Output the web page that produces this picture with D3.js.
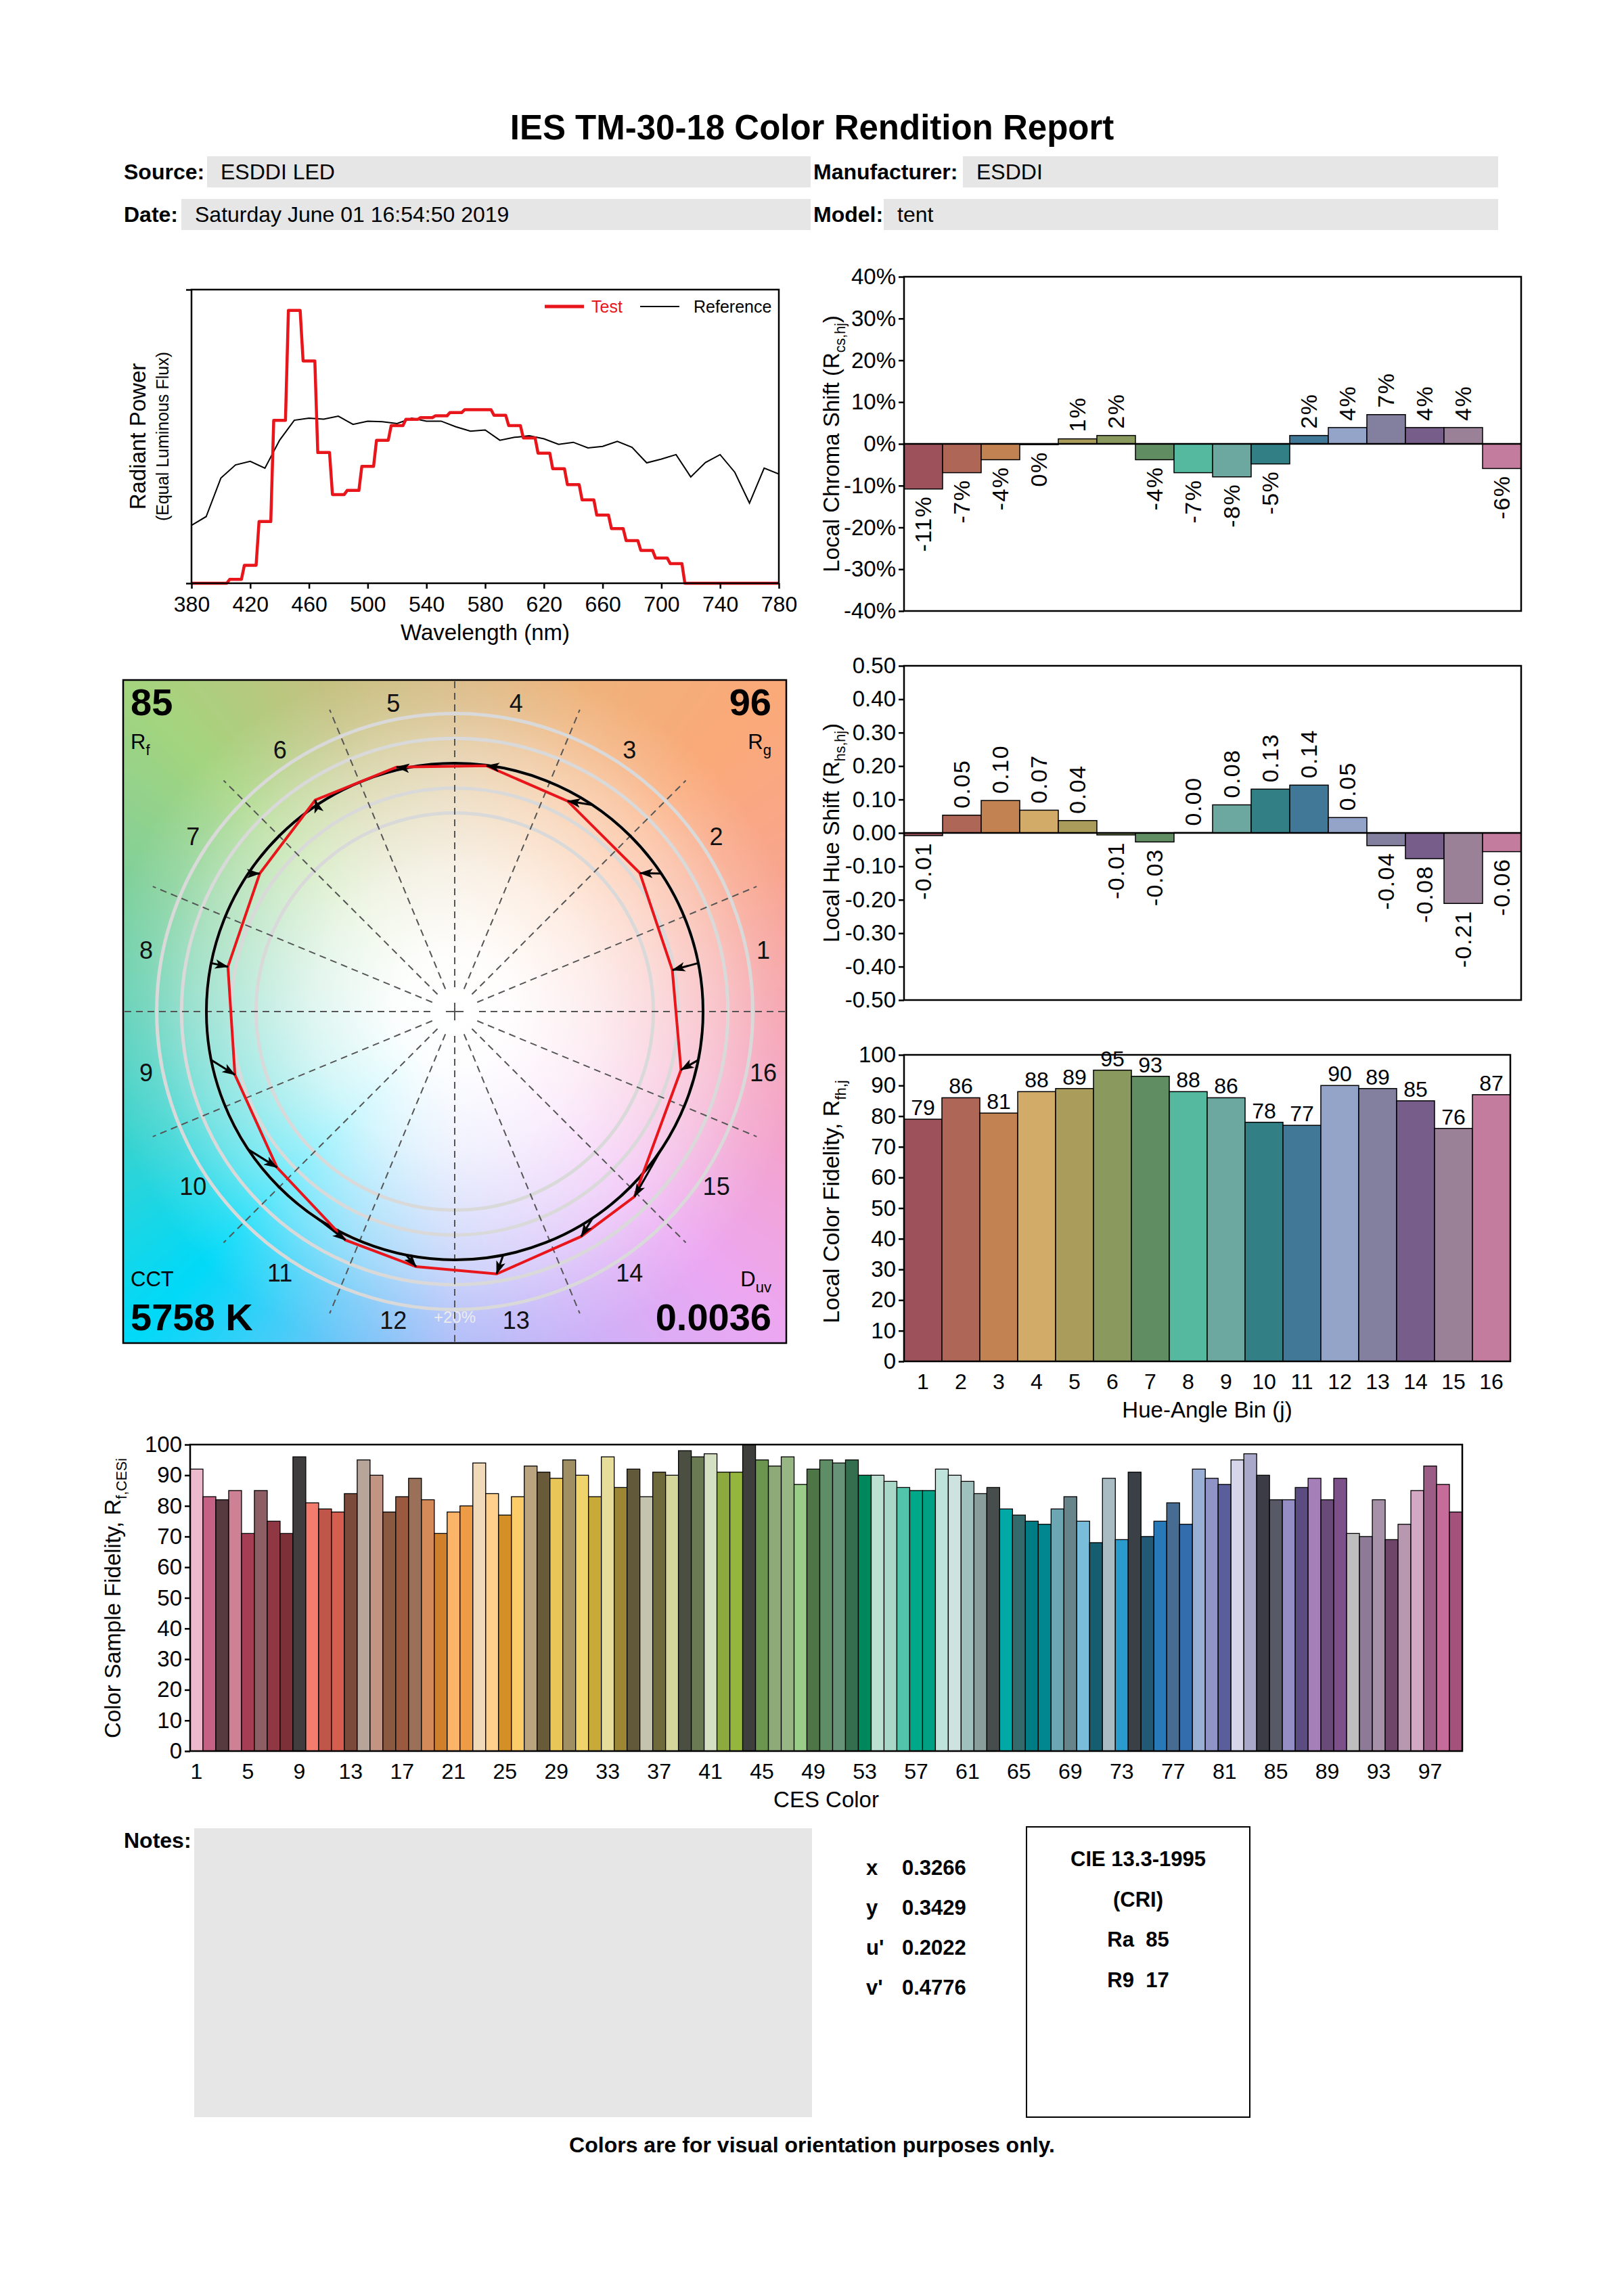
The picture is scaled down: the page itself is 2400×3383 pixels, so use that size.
<!DOCTYPE html>
<html>
<head>
<meta charset="utf-8">
<script src="https://cdn.jsdelivr.net/npm/d3@7"></script>
<style>
body { margin: 0; background: #fff; }
</style>
</head>
<body>
<svg id="page"></svg>
<script>
var W = 2400, H = 3383;
var FONT = '"Liberation Sans", Arial, Helvetica, sans-serif';

// ---- data ----
var hueBins = [1, 2, 3, 4, 5, 6, 7, 8, 9, 10, 11, 12, 13, 14, 15, 16];
var binColors = ["#9d525b", "#ae6656", "#c28251", "#d2ab69", "#aa9d5c", "#8a9a5e", "#608e62", "#54b99e",
                 "#6ca8a0", "#337f86", "#417898", "#94a3c8", "#837f9e", "#765d8a", "#9a8197", "#c47c9e"];
var chromaShift = [-0.108, -0.069, -0.038, -0.002, 0.012, 0.020, -0.038, -0.069,
                   -0.079, -0.048, 0.020, 0.039, 0.070, 0.039, 0.039, -0.059];
var hueShift = [-0.008, 0.053, 0.097, 0.068, 0.037, -0.006, -0.027, 0.001,
                0.084, 0.131, 0.143, 0.046, -0.038, -0.077, -0.211, -0.056];
var localFidelity = [79, 86, 81, 88, 89, 95, 93, 88, 86, 78, 77, 90, 89, 85, 76, 87];

var wavelengths = [380, 390, 400, 410, 420, 430, 440, 450, 460, 470, 480, 490, 500, 510, 520, 530, 540,
                   550, 560, 570, 580, 590, 600, 610, 620, 630, 640, 650, 660, 670, 680, 690, 700, 710,
                   720, 730, 740, 750, 760, 770, 780];
var testSpd = [0, 0, 0, 0.013, 0.061, 0.210, 0.555, 0.929, 0.757, 0.445, 0.302, 0.316, 0.398, 0.487,
               0.537, 0.558, 0.564, 0.570, 0.581, 0.591, 0.591, 0.572, 0.537, 0.495, 0.443, 0.390, 0.336,
               0.284, 0.232, 0.186, 0.145, 0.112, 0.086, 0.067, 0, 0, 0, 0, 0, 0, 0];
var refSpd = [0.197, 0.227, 0.358, 0.403, 0.415, 0.392, 0.487, 0.555, 0.562, 0.559, 0.569, 0.541, 0.552,
              0.550, 0.544, 0.562, 0.552, 0.552, 0.533, 0.518, 0.522, 0.487, 0.497, 0.502, 0.492, 0.473,
              0.480, 0.461, 0.466, 0.483, 0.463, 0.410, 0.423, 0.438, 0.362, 0.411, 0.438, 0.378, 0.273,
              0.392, 0.372];
var wavelengthTicks = [380, 420, 460, 500, 540, 580, 620, 660, 700, 740, 780];

var cesFidelity = [92, 83, 82, 85, 71, 85, 75, 71, 96, 81,
                   79, 78, 84, 95, 90, 78, 83, 89, 82, 71,
                   78, 80, 94, 84, 77, 83, 93, 91, 89, 95,
                   90, 83, 96, 86, 92, 83, 91, 90, 98, 96,
                   97, 91, 91, 100, 95, 93, 96, 87, 92, 95,
                   94, 95, 90, 90, 88, 86, 85, 85, 92, 90,
                   88, 84, 86, 79, 77, 75, 74, 79, 83, 75,
                   68, 89, 69, 91, 70, 75, 81, 74, 92, 89,
                   87, 95, 97, 90, 82, 82, 86, 89, 82, 89,
                   71, 70, 82, 69, 74, 85, 93, 87, 78];
var cesColors = ["#edb9cc", "#c56184", "#563a40", "#ce8194", "#a53d55", "#8d5f65", "#8f3844", "#7d3038", "#3f3d3e", "#f47c6c",
                 "#c0554a", "#d65e4e", "#7b4a3a", "#b8a59a", "#c19483", "#8a593f", "#9a5a40", "#9a7158", "#d58a5a", "#d07f2a",
                 "#fcb468", "#ed9b45", "#f1daba", "#fed08c", "#d49026", "#fdcb68", "#b9a47f", "#695a3a", "#e9c658", "#a08f62",
                 "#eed46a", "#c8aa38", "#e6dd9a", "#9d8634", "#62593a", "#c4c3ae", "#6e6a3c", "#d4d59a", "#4a4f42", "#6a7a52",
                 "#d5dfc2", "#8daa3e", "#95b63d", "#3e3f3c", "#6c964f", "#8daa78", "#98b684", "#9ace88", "#4d7545", "#5f8d66",
                 "#679378", "#336f4e", "#00885d", "#bce0d2", "#a9d8c8", "#52c4ac", "#00a88a", "#00a085", "#bee3da", "#cee2df",
                 "#9ec1be", "#8a9e9b", "#464d4c", "#00a8a6", "#346a6b", "#007c84", "#00878f", "#6ba6b2", "#67848a", "#79bddb",
                 "#155e70", "#a9bbc3", "#2a9bcd", "#3a4045", "#225a75", "#2879b7", "#466d91", "#336dad", "#9aafd4", "#8f93c5",
                 "#5a5f9c", "#d5d6e9", "#a9a8ca", "#3c3c46", "#575966", "#958ec5", "#5b4d81", "#a57fb7", "#694a78", "#7c5089",
                 "#bebebe", "#8d7a96", "#a691a9", "#6f4569", "#b898b1", "#d3a8c5", "#9b5c85", "#c66c9a", "#a4527c"];
var cesIndex = d3.range(1, cesFidelity.length + 1);
var cesTicks = [1, 5, 9, 13, 17, 21, 25, 29, 33, 37, 41, 45, 49, 53, 57, 61, 65, 69, 73, 77, 81, 85, 89, 93, 97];

var Rf = 85, Rg = 96, CCT = "5758 K", Duv = "0.0036";
var chromaticity = [["x", "0.3266"], ["y", "0.3429"], ["u'", "0.2022"], ["v'", "0.4776"]];

// ---- page ----
var svg = d3.select("#page").attr("width", W).attr("height", H)
  .attr("font-family", FONT);
svg.append("rect").attr("width", W).attr("height", H).attr("fill", "#fff");

svg.append("text").attr("x", 1200).attr("y", 206).attr("text-anchor", "middle")
  .attr("font-size", 51).attr("font-weight", "bold")
  .text("IES TM-30-18 Color Rendition Report");

function field(label, value, lx, bx0, bx1, by0, by1) {
  svg.append("rect").attr("x", bx0).attr("y", by0).attr("width", bx1 - bx0).attr("height", by1 - by0)
    .attr("fill", "#e6e6e6");
  var base = (by0 + by1) / 2 + 11;
  svg.append("text").attr("x", lx).attr("y", base).attr("font-size", 32).attr("font-weight", "bold").text(label);
  svg.append("text").attr("x", bx0 + 20).attr("y", base).attr("font-size", 32).text(value);
}
field("Source:", "ESDDI LED", 183, 306, 1198, 231, 277);
field("Manufacturer:", "ESDDI", 1202, 1423, 2214, 231, 277);
field("Date:", "Saturday June 01 16:54:50 2019", 183, 268, 1198, 294, 340);
field("Model:", "tent", 1202, 1306, 2214, 294, 340);

// ---- helpers ----
function frame(x0, y0, x1, y1) {
  svg.append("rect").attr("x", x0).attr("y", y0).attr("width", x1 - x0).attr("height", y1 - y0)
    .attr("fill", "none").attr("stroke", "#000").attr("stroke-width", 2.5);
}

function leftAxis(scale, x0, vals, fmt) {
  var g = svg.append("g").attr("transform", "translate(" + x0 + ",0)")
    .call(d3.axisLeft(scale).tickValues(vals).tickFormat(fmt).tickSize(8).tickPadding(4));
  g.attr("font-size", 33).attr("font-family", FONT);
  g.select(".domain").remove();
  g.selectAll("line").attr("stroke", "#000").attr("stroke-width", 2.5);
  g.selectAll("text").attr("fill", "#000");
  return g;
}

function yTitle(cx, cy, size, main, sub, tail) {
  var t = svg.append("text").attr("transform", "translate(" + cx + "," + cy + ") rotate(-90)")
    .attr("text-anchor", "middle").attr("font-size", size).attr("dy", "0.35em");
  t.append("tspan").text(main);
  if (sub) {
    t.append("tspan").attr("font-size", size * 0.65).attr("dy", size * 0.3).text(sub);
    if (tail) t.append("tspan").attr("dy", -size * 0.3).text(tail);
  }
}

// ---- spectrum ----
(function () {
  var x0 = 283, x1 = 1151, y0 = 428, y1 = 862;
  var x = d3.scaleLinear().domain([380, 780]).range([x0, x1]);
  var y = d3.scaleLinear().domain([0, 1]).range([y1, y0]);

  svg.append("clipPath").attr("id", "specClip").append("rect")
    .attr("x", x0).attr("y", y0 - 5).attr("width", x1 - x0).attr("height", y1 - y0 + 10);

  var line = d3.line().x(function (d) { return x(d[0]); }).y(function (d) { return y(d[1]); });

  var refPts = wavelengths.map(function (w, i) { return [w, refSpd[i]]; });
  var testPts = [];
  wavelengths.forEach(function (w, i) { testPts.push([w - 4, testSpd[i]], [w + 4, testSpd[i]]); });

  var g = svg.append("g").attr("clip-path", "url(#specClip)");
  g.append("path").attr("d", line(refPts)).attr("fill", "none").attr("stroke", "#000").attr("stroke-width", 2);
  g.append("path").attr("d", line(testPts)).attr("fill", "none").attr("stroke", "#e8151b")
    .attr("stroke-width", 4.5).attr("stroke-linejoin", "round");

  // axes
  var gx = svg.append("g").attr("transform", "translate(0," + y1 + ")")
    .call(d3.axisBottom(x).tickValues(wavelengthTicks).tickSize(8).tickPadding(11));
  gx.attr("font-size", 32).attr("font-family", FONT);
  gx.select(".domain").remove();
  gx.selectAll("line").attr("stroke", "#000").attr("stroke-width", 2.5);
  gx.selectAll("text").attr("fill", "#000");
  svg.append("g").attr("transform", "translate(" + x0 + ",0)")
    .call(d3.axisLeft(y).tickValues([0, 1]).tickFormat("").tickSize(8))
    .call(function (a) { a.select(".domain").remove(); a.selectAll("line").attr("stroke-width", 2.5); });
  frame(x0, y0, x1, y1);

  svg.append("text").attr("x", (x0 + x1) / 2).attr("y", 946).attr("text-anchor", "middle")
    .attr("font-size", 33).text("Wavelength (nm)");
  yTitle(203, 645, 33, "Radiant Power");
  yTitle(240, 645, 25, "(Equal Luminous Flux)");

  // legend
  svg.append("line").attr("x1", 805).attr("x2", 863).attr("y1", 453).attr("y2", 453)
    .attr("stroke", "#e8151b").attr("stroke-width", 5);
  svg.append("text").attr("x", 874).attr("y", 462).attr("font-size", 25).attr("fill", "#e8151b").text("Test");
  svg.append("line").attr("x1", 946).attr("x2", 1004).attr("y1", 453).attr("y2", 453)
    .attr("stroke", "#000").attr("stroke-width", 2);
  svg.append("text").attr("x", 1025).attr("y", 462).attr("font-size", 25).text("Reference");
})();

// ---- chroma / hue shift bars ----
function shiftChart(values, y0, y1, dmax, ticks, tickFmt, labelFmt, title, sub) {
  var x0 = 1336, x1 = 2248;
  var x = d3.scaleBand().domain(hueBins).range([x0, x1]).padding(0);
  var y = d3.scaleLinear().domain([-dmax, dmax]).range([y1, y0]);

  svg.append("g").selectAll("rect").data(values).join("rect")
    .attr("x", function (d, i) { return x(hueBins[i]); })
    .attr("width", x.bandwidth())
    .attr("y", function (d) { return y(Math.max(0, d)); })
    .attr("height", function (d) { return Math.abs(y(d) - y(0)); })
    .attr("fill", function (d, i) { return binColors[i]; })
    .attr("stroke", "#000").attr("stroke-width", 1.5);

  svg.append("line").attr("x1", x0).attr("x2", x1).attr("y1", y(0)).attr("y2", y(0))
    .attr("stroke", "#000").attr("stroke-width", 2.5);

  svg.append("g").selectAll("text").data(values).join("text")
    .attr("transform", function (d, i) {
      var cx = x(hueBins[i]) + x.bandwidth() / 2;
      var yy = d >= 0 ? y(d) - 10 : y(d) + 10;
      return "translate(" + cx + "," + yy + ") rotate(-90)";
    })
    .attr("text-anchor", function (d) { return d >= 0 ? "start" : "end"; })
    .attr("dy", "0.35em").attr("font-size", 34).attr("letter-spacing", 1.5)
    .text(labelFmt);

  leftAxis(y, x0, ticks, tickFmt);
  frame(x0, y0, x1, y1);
  yTitle(1228, (y0 + y1) / 2, 33, title, sub, ")");
}

shiftChart(chromaShift, 409, 903, 0.4,
  [-0.4, -0.3, -0.2, -0.1, 0, 0.1, 0.2, 0.3, 0.4],
  function (d) { return Math.round(d * 100) + "%"; },
  function (d) { return Math.round(d * 100) + "%"; },
  "Local Chroma Shift (R", "cs,hj");

shiftChart(hueShift, 984, 1478, 0.5,
  [-0.5, -0.4, -0.3, -0.2, -0.1, 0, 0.1, 0.2, 0.3, 0.4, 0.5],
  function (d) { return d3.format(".2f")(d).replace("−", "-"); },
  function (d) { return d.toFixed(2); },
  "Local Hue Shift (R", "hs,hj");

// ---- local fidelity bars ----
(function () {
  var x0 = 1336, x1 = 2232, y0 = 1559, y1 = 2012;
  var x = d3.scaleBand().domain(hueBins).range([x0, x1]).padding(0);
  var y = d3.scaleLinear().domain([0, 100]).range([y1, y0]);

  svg.append("g").selectAll("rect").data(localFidelity).join("rect")
    .attr("x", function (d, i) { return x(hueBins[i]); })
    .attr("width", x.bandwidth())
    .attr("y", function (d) { return y(d); })
    .attr("height", function (d) { return y(0) - y(d); })
    .attr("fill", function (d, i) { return binColors[i]; })
    .attr("stroke", "#000").attr("stroke-width", 1.5);

  svg.append("g").selectAll("text").data(localFidelity).join("text")
    .attr("x", function (d, i) { return x(hueBins[i]) + x.bandwidth() / 2; })
    .attr("y", function (d) { return y(d) - 6; })
    .attr("text-anchor", "middle").attr("font-size", 32)
    .text(function (d) { return d; });

  svg.append("g").selectAll("text").data(hueBins).join("text")
    .attr("x", function (d) { return x(d) + x.bandwidth() / 2; })
    .attr("y", 2053).attr("text-anchor", "middle").attr("font-size", 32)
    .text(function (d) { return d; });

  leftAxis(y, x0, d3.range(0, 101, 10), d3.format("d"));
  frame(x0, y0, x1, y1);
  svg.append("text").attr("x", (x0 + x1) / 2).attr("y", 2095).attr("text-anchor", "middle")
    .attr("font-size", 33).text("Hue-Angle Bin (j)");
  yTitle(1228, 1776, 34, "Local Color Fidelity, R", "fh,j");
})();

// ---- CES sample fidelity ----
(function () {
  var x0 = 281, x1 = 2161, y0 = 2135, y1 = 2588;
  var x = d3.scaleBand().domain(cesIndex).range([x0, x1]).padding(0);
  var y = d3.scaleLinear().domain([0, 100]).range([y1, y0]);

  svg.append("g").selectAll("rect").data(cesFidelity).join("rect")
    .attr("x", function (d, i) { return x(cesIndex[i]); })
    .attr("width", x.bandwidth())
    .attr("y", function (d) { return y(d); })
    .attr("height", function (d) { return y(0) - y(d); })
    .attr("fill", function (d, i) { return cesColors[i]; })
    .attr("stroke", "#000").attr("stroke-width", 1.3);

  svg.append("g").selectAll("text").data(cesTicks).join("text")
    .attr("x", function (d) { return x(d) + x.bandwidth() / 2; })
    .attr("y", 2629).attr("text-anchor", "middle").attr("font-size", 32)
    .text(function (d) { return d; });

  leftAxis(y, x0, d3.range(0, 101, 10), d3.format("d"));
  frame(x0, y0, x1, y1);
  svg.append("text").attr("x", 1221).attr("y", 2671).attr("text-anchor", "middle")
    .attr("font-size", 33).text("CES Color");
  yTitle(166, 2362, 33, "Color Sample Fidelity, R", "f,CESi");
})();

// ---- color vector graphic ----
(function () {
  var bx0 = 182, by0 = 1005, size = 980;
  var cx = bx0 + size / 2, cy = by0 + size / 2, R = 367;
  var defs = svg.append("defs");
  defs.append("clipPath").attr("id", "cvgClip").append("rect")
    .attr("x", bx0).attr("y", by0).attr("width", size).attr("height", size);
  var rg = defs.append("radialGradient").attr("id", "whiteFade")
    .attr("gradientUnits", "userSpaceOnUse").attr("cx", cx).attr("cy", cy).attr("r", 700);
  [[0, 1], [0.12, 0.98], [0.3, 0.8], [0.45, 0.56], [0.55, 0.38], [0.65, 0.15], [0.75, 0]].forEach(function (s) {
    rg.append("stop").attr("offset", s[0]).attr("stop-color", "#fff").attr("stop-opacity", s[1]);
  });
  defs.append("marker").attr("id", "arrowHead").attr("markerUnits", "userSpaceOnUse")
    .attr("markerWidth", 20).attr("markerHeight", 14).attr("refX", 19).attr("refY", 7)
    .attr("orient", "auto")
    .append("path").attr("d", "M0,0L20,7L0,14L5,7Z").attr("fill", "#000");

  // hue background (angle in degrees, counter-clockwise from +x)
  var hueWheel = d3.scaleLinear()
    .domain([0, 22, 45, 68, 90, 112, 135, 158, 180, 202, 225, 248, 270, 292, 315, 338, 360])
    .range(["#f5a2ae", "#f8a590", "#faa978", "#efb27a", "#d8ba84", "#c4c180", "#a4d47e", "#80d09a",
            "#60d0b6", "#36d3d0", "#00d9f8", "#62c7f8", "#adbbf8", "#cdb1f8", "#eca7f2", "#f3a3cc", "#f5a2ae"])
    .interpolate(d3.interpolateRgb);
  var bg = svg.append("g").attr("clip-path", "url(#cvgClip)");
  var far = 760;
  d3.range(0, 360, 1).forEach(function (a) {
    var a1 = a * Math.PI / 180, a2 = (a + 1.3) * Math.PI / 180;
    bg.append("path")
      .attr("d", "M" + cx + "," + cy + "L" + (cx + far * Math.cos(a1)) + "," + (cy - far * Math.sin(a1)) +
        "L" + (cx + far * Math.cos(a2)) + "," + (cy - far * Math.sin(a2)) + "Z")
      .attr("fill", hueWheel(a + 0.5));
  });
  bg.append("rect").attr("x", bx0).attr("y", by0).attr("width", size).attr("height", size)
    .attr("fill", "url(#whiteFade)");

  // rings
  [0.8, 0.9, 1.0, 1.1, 1.2].forEach(function (k) {
    bg.append("circle").attr("cx", cx).attr("cy", cy).attr("r", k * R)
      .attr("fill", "none").attr("stroke", "#d9d9d9").attr("stroke-width", 5);
  });
  bg.append("text").attr("x", cx).attr("y", cy + 1.2 * R + 20).attr("text-anchor", "middle")
    .attr("font-size", 24).attr("fill", "#ececec").text("+20%");

  // bin boundaries: dashed spokes that stop short of the centre
  d3.range(0, 16).forEach(function (k) {
    var a = k * 22.5 * Math.PI / 180;
    var len = (k % 4 === 0) ? 495 : 483, r0 = 36;
    bg.append("line")
      .attr("x1", cx + r0 * Math.cos(a)).attr("y1", cy - r0 * Math.sin(a))
      .attr("x2", cx + len * Math.cos(a)).attr("y2", cy - len * Math.sin(a))
      .attr("stroke", "#555").attr("stroke-width", 2).attr("stroke-dasharray", "10,7");
  });
  bg.append("path").attr("d", "M" + (cx - 13) + "," + cy + "H" + (cx + 13) + "M" + cx + "," + (cy - 13) + "V" + (cy + 13))
    .attr("stroke", "#555").attr("stroke-width", 2);

  // reference circle
  svg.append("circle").attr("cx", cx).attr("cy", cy).attr("r", R)
    .attr("fill", "none").attr("stroke", "#000").attr("stroke-width", 4);

  var pts = hueBins.map(function (j, i) {
    var th = (j - 0.5) * 22.5 * Math.PI / 180;
    var tt = th + hueShift[i];
    var r = R * (1 + chromaShift[i]);
    return {
      rx: cx + R * Math.cos(th), ry: cy - R * Math.sin(th),
      tx: cx + r * Math.cos(tt), ty: cy - r * Math.sin(tt)
    };
  });
  svg.append("path")
    .attr("d", d3.line().x(function (d) { return d.tx; }).y(function (d) { return d.ty; })
      .curve(d3.curveLinearClosed)(pts))
    .attr("fill", "none").attr("stroke", "#e8151b").attr("stroke-width", 4);
  svg.append("g").selectAll("line").data(pts).join("line")
    .attr("x1", function (d) { return d.rx; }).attr("y1", function (d) { return d.ry; })
    .attr("x2", function (d) { return d.tx; }).attr("y2", function (d) { return d.ty; })
    .attr("stroke", "#000").attr("stroke-width", 3).attr("marker-end", "url(#arrowHead)");

  // bin numbers
  svg.append("g").selectAll("text").data(hueBins).join("text")
    .attr("x", function (j) { return cx + 465 * Math.cos((j - 0.5) * 22.5 * Math.PI / 180); })
    .attr("y", function (j) { return cy - 465 * Math.sin((j - 0.5) * 22.5 * Math.PI / 180); })
    .attr("text-anchor", "middle").attr("dy", "0.35em").attr("font-size", 36).attr("fill", "#111")
    .text(function (j) { return j; });

  // corner values
  svg.append("text").attr("x", 193).attr("y", 1057).attr("font-size", 56).attr("font-weight", "bold").text(Rf);
  var rf = svg.append("text").attr("x", 193).attr("y", 1107).attr("font-size", 31);
  rf.append("tspan").text("R");
  rf.append("tspan").attr("font-size", 22).attr("dy", 9).text("f");
  svg.append("text").attr("x", 1140).attr("y", 1057).attr("text-anchor", "end").attr("font-size", 56)
    .attr("font-weight", "bold").text(Rg);
  var rgT = svg.append("text").attr("x", 1140).attr("y", 1107).attr("text-anchor", "end").attr("font-size", 31);
  rgT.append("tspan").text("R");
  rgT.append("tspan").attr("font-size", 22).attr("dy", 9).text("g");
  svg.append("text").attr("x", 193).attr("y", 1901).attr("font-size", 31).text("CCT");
  svg.append("text").attr("x", 193).attr("y", 1966).attr("font-size", 56).attr("font-weight", "bold").text(CCT);
  var du = svg.append("text").attr("x", 1140).attr("y", 1901).attr("text-anchor", "end").attr("font-size", 31);
  du.append("tspan").text("D");
  du.append("tspan").attr("font-size", 22).attr("dy", 9).text("uv");
  svg.append("text").attr("x", 1140).attr("y", 1966).attr("text-anchor", "end").attr("font-size", 56)
    .attr("font-weight", "bold").text(Duv);

  frame(bx0, by0, bx0 + size, by0 + size);
})();

// ---- notes, chromaticity, CRI ----
svg.append("text").attr("x", 183).attr("y", 2731).attr("font-size", 32).attr("font-weight", "bold").text("Notes:");
svg.append("rect").attr("x", 287).attr("y", 2702).attr("width", 913).attr("height", 427).attr("fill", "#e6e6e6");

chromaticity.forEach(function (c, i) {
  var yy = 2771 + i * 59;
  svg.append("text").attr("x", 1280).attr("y", yy).attr("font-size", 31).attr("font-weight", "bold").text(c[0]);
  svg.append("text").attr("x", 1333).attr("y", yy).attr("font-size", 31).attr("font-weight", "bold").text(c[1]);
});

svg.append("rect").attr("x", 1517).attr("y", 2700).attr("width", 330).attr("height", 429)
  .attr("fill", "none").attr("stroke", "#000").attr("stroke-width", 2);
["CIE 13.3-1995", "(CRI)", "Ra\u00a0\u00a085", "R9\u00a0\u00a017"].forEach(function (t, i) {
  svg.append("text").attr("x", 1682).attr("y", 2758 + i * 59.5).attr("text-anchor", "middle")
    .attr("font-size", 31).attr("font-weight", "bold").text(t);
});

svg.append("text").attr("x", 1200).attr("y", 3181).attr("text-anchor", "middle")
  .attr("font-size", 32).attr("font-weight", "bold").text("Colors are for visual orientation purposes only.");
</script>
</body>
</html>
